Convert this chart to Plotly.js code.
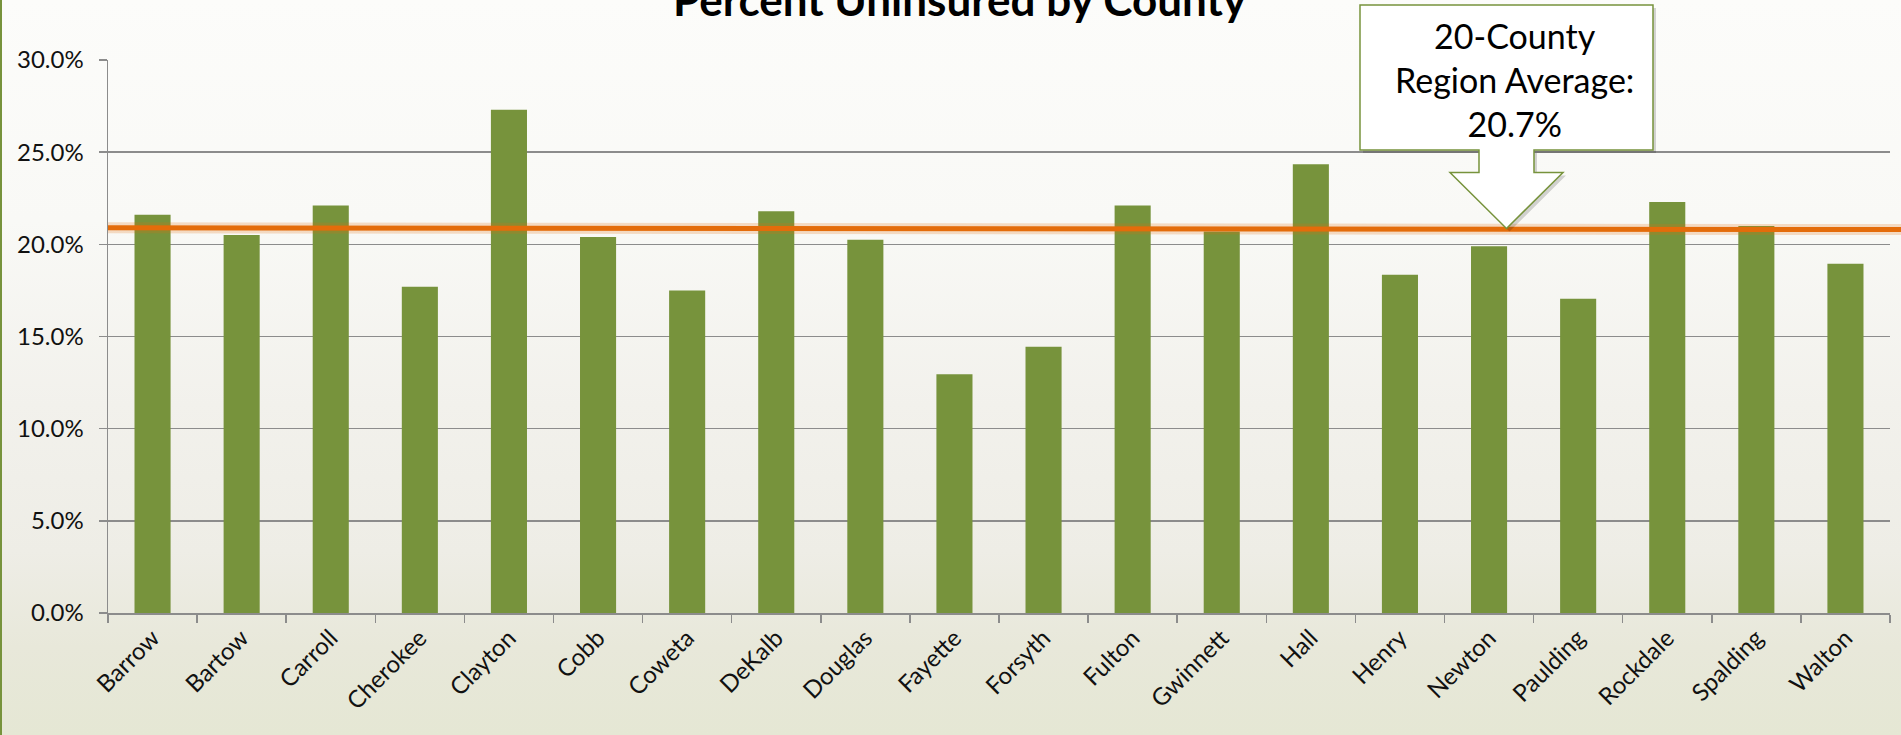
<!DOCTYPE html>
<html><head><meta charset="utf-8">
<script src="https://cdn.plot.ly/plotly-3.0.1.min.js"></script>
<style>
html,body{margin:0;padding:0;width:1901px;height:735px;overflow:hidden;}
body{background:linear-gradient(to bottom,#fcfcfa 0%,#f9f9f6 30%,#f2f1ec 55%,#eeede6 75%,#e8e8da 88%,#e5e7d4 100%);position:relative;}
#edge{position:absolute;left:0;top:0;width:2px;height:735px;background:#77933c;z-index:2;}
#chart{position:absolute;left:0;top:0;width:1901px;height:735px;}
</style></head><body><div id="edge"></div><div id="chart"></div>
<script>
// ---- data ----
const counties = ['Barrow','Bartow','Carroll','Cherokee','Clayton','Cobb','Coweta','DeKalb','Douglas','Fayette',
  'Forsyth','Fulton','Gwinnett','Hall','Henry','Newton','Paulding','Rockdale','Spalding','Walton'];
const pctUninsured = [21.6,20.5,22.1,17.7,27.3,20.4,17.5,21.8,20.25,12.95,
  14.45,22.1,20.7,24.35,18.35,19.9,17.05,22.3,21.0,18.95];
const avgLineEnds = [20.9, 20.8];
const calloutLines = ['20-County','Region Average:','20.7%'];
const chartTitle = 'Percent Uninsured by County';
const yTicks = [0,5,10,15,20,25,30];
const yTickText = ['0.0%','5.0%','10.0%','15.0%','20.0%','25.0%','30.0%'];

// ---- geometry helpers (pixel -> paper) ----
const L=108, R=1890, T=60, B=613;
const px = x => (x-L)/(R-L);
const py = y => (B-y)/(B-T);
function pathFrom(pts, dx, dy){
  return pts.map((p,i)=>(i?'L':'M')+px(p[0]+dx).toFixed(5)+','+py(p[1]+dy).toFixed(5)).join(' ')+' Z';
}
const callPts = [[1360,5],[1653,5],[1653,150],[1534,150],[1534,172.5],[1563,172.5],[1506.5,228.5],
  [1450,172.5],[1479,172.5],[1479,150],[1360,150]];

const green='#77933c', grid='#8c8c8c';
const trace = {type:'bar', x:counties, y:pctUninsured, marker:{color:green}, hoverinfo:'skip'};

const layout = {
  width:1901, height:735,
  margin:{l:L, r:1901-R, t:T, b:735-B},
  paper_bgcolor:'rgba(0,0,0,0)', plot_bgcolor:'rgba(0,0,0,0)',
  bargap:0.595, showlegend:false,
  font:{family:'Lato, sans-serif', color:'#111'},
  xaxis:{type:'category', tickangle:-45, ticks:'outside', tickson:'boundaries', ticklen:8,
    tickcolor:grid, tickwidth:1.5, showline:true, linecolor:grid, linewidth:1.5, showgrid:false,
    tickfont:{family:'Lato, sans-serif', size:24, color:'#111'}, fixedrange:true},
  yaxis:{range:[0,30], tickmode:'array', tickvals:yTicks, ticktext:yTickText, ticks:'outside', ticklen:8,
    tickcolor:grid, tickwidth:1.5, showline:true, linecolor:grid, linewidth:1.5, showgrid:true,
    gridcolor:grid, gridwidth:1.5, zeroline:false, ticklabelstandoff:10,
    tickfont:{family:'Lato, sans-serif', size:24, color:'#111'}, fixedrange:true},
  shapes:[
    {type:'line', xref:'paper', yref:'y', x0:0, x1:px(1901), y0:avgLineEnds[0], y1:avgLineEnds[1],
      line:{color:'rgba(228,108,10,0.22)', width:11}},
    {type:'line', xref:'paper', yref:'y', x0:0, x1:px(1901), y0:avgLineEnds[0], y1:avgLineEnds[1],
      line:{color:'#e46c0a', width:5}},
    {type:'path', xref:'paper', yref:'paper', path:pathFrom(callPts,3,3),
      fillcolor:'rgba(0,0,0,0.16)', line:{width:0}},
    {type:'path', xref:'paper', yref:'paper', path:pathFrom(callPts,0,0),
      fillcolor:'#ffffff', line:{color:green, width:1.5}}
  ],
  annotations:[
    {xref:'paper', yref:'paper', x:px(959.5), y:py(-1.5), xanchor:'center', yanchor:'middle',
      text:'<b>'+chartTitle+'</b>', showarrow:false, font:{family:'Lato, sans-serif', size:44, color:'#000'}},
    {xref:'paper', yref:'paper', x:px(1514), y:py(79), xanchor:'center', yanchor:'middle',
      text:calloutLines.join('<br>'), showarrow:false, font:{family:'Lato, sans-serif', size:34, color:'#000'}}
  ]
};
Plotly.newPlot('chart',[trace],layout,{staticPlot:true, displayModeBar:false});
</script></body></html>
